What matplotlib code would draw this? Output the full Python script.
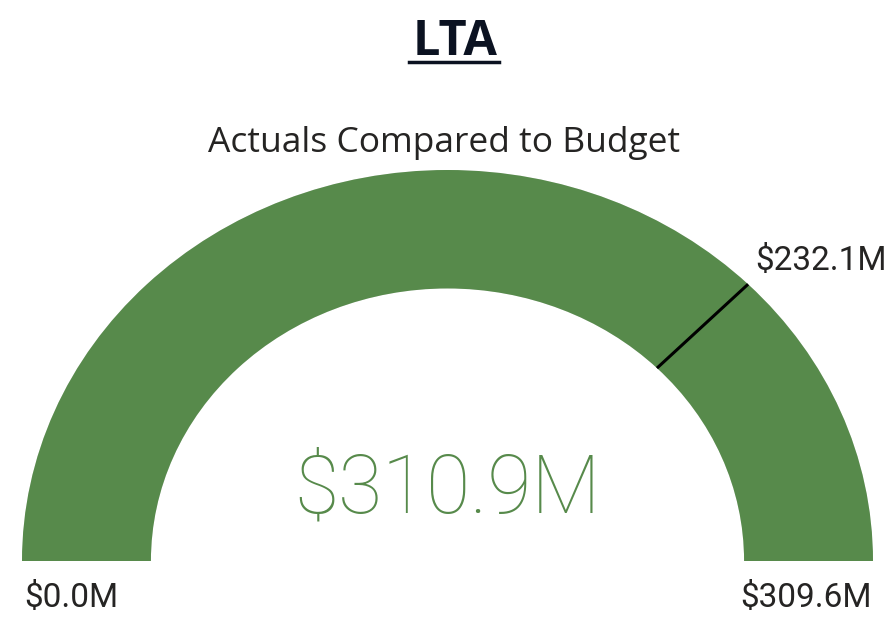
import matplotlib

matplotlib.use("Agg")
import matplotlib.pyplot as plt
import numpy as np
from matplotlib.lines import Line2D
from matplotlib.patches import Wedge

# gauge values ($M)
gauge_min = 0.0
gauge_max = 309.6
actual_value = 310.9
target_value = 232.1

title = "LTA"
subtitle = "Actuals Compared to Budget"
value_fmt = "${:.1f}M"

green = "#578a4b"
text_dark = "#252423"
inner_ratio = 0.697  # inner radius / outer radius


def frac_to_angle(v):
    """Map a value onto the half circle (180 deg at min, 0 deg at max)."""
    f = (v - gauge_min) / (gauge_max - gauge_min)
    f = min(max(f, 0.0), 1.0)
    return 180.0 * (1.0 - f)


fig = plt.figure(figsize=(8.94, 6.21), dpi=100)
ax = fig.add_axes([22 / 894, 60 / 621, 851 / 894, 391 / 621])
ax.set_xlim(-1, 1)
ax.set_ylim(0, 1)
ax.axis("off")

# background track, then the filled part
ax.add_patch(Wedge((0, 0), 1.0, 0, 180, width=1 - inner_ratio, facecolor="#e6e6e6", edgecolor="none"))
fill_angle = frac_to_angle(actual_value)
ax.add_patch(Wedge((0, 0), 1.0, fill_angle, 180, width=1 - inner_ratio, facecolor=green, edgecolor="none"))

# target marker
t = np.deg2rad(frac_to_angle(target_value))
ax.plot(
    [inner_ratio * np.cos(t), np.cos(t)],
    [inner_ratio * np.sin(t), np.sin(t)],
    color="black",
    lw=2.2,
    solid_capstyle="butt",
)
ax.annotate(
    value_fmt.format(target_value),
    xy=(np.cos(t), np.sin(t)),
    xytext=(5, 5),
    textcoords="offset points",
    ha="left",
    va="bottom",
    fontsize=24,
    family="Roboto",
    color=text_dark,
    annotation_clip=False,
)

# min / max labels
ax.text(-0.995, -0.118, value_fmt.format(gauge_min), ha="left", va="baseline",
        fontsize=24, family="Roboto", color=text_dark, clip_on=False)
ax.text(0.998, -0.118, value_fmt.format(gauge_max), ha="right", va="baseline",
        fontsize=24, family="Roboto", color=text_dark, clip_on=False)

# callout value
ax.text(0.0, 0.123, value_fmt.format(actual_value), ha="center", va="baseline",
        fontsize=58, family="Roboto", fontweight="light", color=green)

# titles
title_txt = fig.text(455 / 894, 1 - 55 / 621, title, ha="center", va="baseline",
                     fontsize=35, family="Open Sans", fontweight="bold", color="#0b1221")
fig.text(444 / 894, 1 - 152 / 621, subtitle, ha="center", va="baseline",
         fontsize=25.5, family="Open Sans", color=text_dark)

# underline the title
fig.canvas.draw()
bb = title_txt.get_window_extent().transformed(fig.transFigure.inverted())
uy = 1 - 62 / 621
fig.add_artist(Line2D([bb.x0 - 0.004, bb.x1 + 0.002], [uy, uy], color="#0b1221", lw=2.5,
                      transform=fig.transFigure))

fig.savefig("out.png", dpi=100, facecolor="white")
